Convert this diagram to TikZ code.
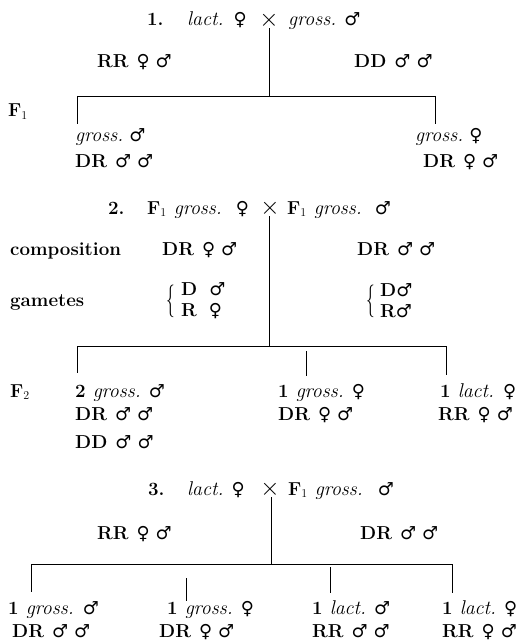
\documentclass[tikz,border=0pt]{standalone}
\usepackage{graphicx}
\usepackage{fontspec}
\newfontfamily\symfont{DejaVu Sans}
\newcommand\fem{{\symfont\fontsize{18}{18}\selectfont ♀}}
\newcommand\mal{{\symfont\fontsize{18}{18}\selectfont ♂}}
\newcommand\spec[1]{{\fontsize{20}{22}\selectfont\mdseries\itshape #1}}
\newcommand\crs{{\fontsize{40}{40}\selectfont$\times$}}
\newcommand\tallbrace{\scalebox{1}[1.9]{$\{$}}
\newcommand\ga{\hspace{8bp}}
\newcommand\gb{\hspace{6bp}}
\tikzset{
  txt/.style={inner sep=0pt, anchor=base west, font=\fontsize{18.8}{22}\selectfont\bfseries},
  brc/.style={inner sep=0pt, anchor=west, font=\fontsize{18.8}{22}\selectfont\bfseries},
  gmt/.style={inner sep=0pt, anchor=west, align=left, font=\fontsize{18.8}{21}\selectfont\bfseries},
  crossx/.style={inner sep=0pt},
  lnk/.style={line width=0.9bp}
}
\begin{document}
\begin{tikzpicture}[x=1bp,y=-1bp]
\useasboundingbox (0,0) rectangle (523,643);
% ---------- cross 1
\node[txt] (c1num) at (147,26) {1.};
\node[txt] (c1l) at (187,26) {\spec{lact.}\hspace{10bp}\fem};
\node[crossx] (x1) at (269,20) {\crs};
\node[txt] (c1r) at (288,26) {\spec{gross.}\hspace{8bp}\mal};
\node[txt] (p1l) at (97,68) {RR\ga\fem\gb\mal};
\node[txt] (p1r) at (354,68) {DD\ga\mal\gb\mal};
\node[txt] (F1) at (8,117) {F$_1$};
\node[txt] (f1a) at (75,142) {\spec{gross.}\hspace{6bp}\mal};
\node[txt] (f1b) at (75,168) {DR\ga\mal\gb\mal};
\node[txt] (f1c) at (415,142) {\spec{gross.}\hspace{6bp}\fem};
\node[txt] (f1d) at (423,168) {DR\ga\fem\gb\mal};
\coordinate (b1) at (269,96);
\coordinate (b1l) at (77,96);
\coordinate (b1r) at (435,96);
\coordinate (b1ld) at (77,124);
\coordinate (b1rd) at (435,124);
\draw[lnk] (x1.south) -- (b1);
\draw[lnk] (b1l) -- (b1r);
\draw[lnk] (b1l) -- (b1ld);
\draw[lnk] (b1r) -- (b1rd);
% ---------- cross 2
\node[txt] (c2num) at (108,214) {2.};
\node[txt] (c2l) at (147,214) {F$_1$ \spec{gross.}\hspace{14bp}\fem};
\node[crossx] (x2) at (270,208) {\crs};
\node[txt] (c2r) at (287,214) {F$_1$ \spec{gross.}\hspace{13bp}\mal};
\node[txt] (comp) at (10,255) {composition};
\node[txt] (compl) at (162,255) {DR\ga\fem\gb\mal};
\node[txt] (compr) at (357,255) {DR\ga\mal\gb\mal};
\node[txt] (gam) at (10,306) {gametes};
\node[brc] (gbl) at (166,301) {\tallbrace};
\node[gmt] (gtl) at (181,301) {D\hspace{12bp}\mal\\R\hspace{12bp}\fem};
\node[brc] (gbr) at (366,301) {\tallbrace};
\node[gmt] (gtr) at (380,301) {D\mal\\R\mal};
\coordinate (b2) at (269,346);
\coordinate (b2l) at (77,346);
\coordinate (b2r) at (446,346);
\coordinate (b2ld) at (77,373);
\coordinate (b2mt) at (306,351);
\coordinate (b2md) at (306,376);
\coordinate (b2rd) at (446,375);
\draw[lnk] (x2.south -| b2) -- (b2);
\draw[lnk] (b2l) -- (b2r);
\draw[lnk] (b2l) -- (b2ld);
\draw[lnk] (b2mt) -- (b2md);
\draw[lnk] (b2r) -- (b2rd);
\node[txt] (F2) at (10,397) {F$_2$};
\node[txt] (f2a) at (75,397) {2 \spec{gross.}\hspace{8bp}\mal};
\node[txt] (f2b) at (75,420) {DR\ga\mal\gb\mal};
\node[txt] (f2c) at (75,448) {DD\ga\mal\gb\mal};
\node[txt] (f2d) at (278,397) {1 \spec{gross.}\hspace{8bp}\fem};
\node[txt] (f2e) at (278,420) {DR\ga\fem\gb\mal};
\node[txt] (f2f) at (440,397) {1 \spec{lact.}\hspace{9bp}\fem};
\node[txt] (f2g) at (438,420) {RR\ga\fem\gb\mal};
% ---------- cross 3
\node[txt] (c3num) at (148,495) {3.};
\node[txt] (c3l) at (187,495) {\spec{lact.}\hspace{8bp}\fem};
\node[crossx] (x3) at (270,489) {\crs};
\node[txt] (c3r) at (288,495) {F$_1$ \spec{gross.}\hspace{15bp}\mal};
\node[txt] (p3l) at (97,539) {RR\ga\fem\gb\mal};
\node[txt] (p3r) at (360,539) {DR\ga\mal\gb\mal};
\coordinate (b3) at (271,564);
\coordinate (b3l) at (31,564);
\coordinate (b3r) at (452,564);
\coordinate (b3ad) at (31,592);
\coordinate (b3bt) at (186,578);
\coordinate (b3bd) at (186,601);
\coordinate (b3ct) at (330,567);
\coordinate (b3cd) at (330,593);
\coordinate (b3dd) at (452,593);
\draw[lnk] (x3.south -| b3) -- (b3);
\draw[lnk] (b3l) -- (b3r);
\draw[lnk] (b3l) -- (b3ad);
\draw[lnk] (b3bt) -- (b3bd);
\draw[lnk] (b3ct) -- (b3cd);
\draw[lnk] (b3r) -- (b3dd);
\node[txt] (g1) at (8,614) {1 \spec{gross.}\hspace{9bp}\mal};
\node[txt] (g2) at (12,637) {DR\ga\mal\gb\mal};
\node[txt] (g3) at (167,614) {1 \spec{gross.}\hspace{8bp}\fem};
\node[txt] (g4) at (159,637) {DR\ga\fem\gb\mal};
\node[txt] (g5) at (312,614) {1 \spec{lact.}\hspace{8bp}\mal};
\node[txt] (g6) at (312,637) {RR\ga\mal\gb\mal};
\node[txt] (g7) at (442,614) {1 \spec{lact.}\hspace{8bp}\fem};
\node[txt] (g8) at (442,637) {RR\ga\fem\gb\mal};
\end{tikzpicture}
\end{document}
